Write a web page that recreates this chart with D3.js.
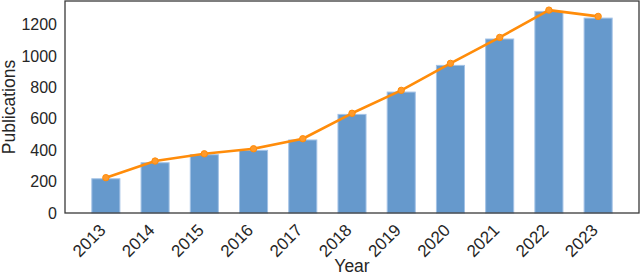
<!DOCTYPE html>
<html><head><meta charset="utf-8">
<script src="https://cdn.jsdelivr.net/npm/d3@7"></script>
<style>
html,body{margin:0;padding:0;background:#fff;}
svg{display:block;}
text{font-family:"Liberation Sans",Arial,Helvetica,sans-serif;fill:#262626;}
</style></head>
<body>
<svg id="chart" width="640" height="276"></svg>
<script>
const years = ["2013","2014","2015","2016","2017","2018","2019","2020","2021","2022","2023"];
const barValues = [218, 320, 371, 399, 465, 628, 770, 940, 1108, 1284, 1241];
const lineValues = [225, 331, 377, 409, 473, 635, 781, 953, 1118, 1292, 1252];
const yTicks = [0, 200, 400, 600, 800, 1000, 1200];

const W = 640, H = 276;
const m = {left: 65, right: 1, top: 1, bottom: 63};
const svg = d3.select("#chart");
const pw = W - m.left - m.right, ph = H - m.top - m.bottom;

const x = d3.scaleLinear().domain([-0.83, years.length - 1 + 0.83]).range([m.left, m.left + pw]);
const y = d3.scaleLinear().domain([0, 1350]).range([m.top + ph, m.top]);
const bw = (x(0.57) - x(0));

// bars
svg.append("g").selectAll("rect").data(barValues).join("rect")
  .attr("x", (d, i) => x(i) - bw / 2)
  .attr("y", d => y(d))
  .attr("width", bw)
  .attr("height", d => y(0) - y(d))
  .attr("fill", "#6699cc")
  .attr("stroke", "#a3c2e6")
  .attr("stroke-width", 1);

// line
const line = d3.line().x((d, i) => x(i)).y(d => y(d));
svg.append("path").datum(lineValues)
  .attr("d", line).attr("fill", "none")
  .attr("stroke", "#ff8c0a").attr("stroke-width", 2.6)
  .attr("stroke-linejoin", "round");
svg.append("g").selectAll("circle").data(lineValues).join("circle")
  .attr("cx", (d, i) => x(i)).attr("cy", d => y(d)).attr("r", 3.2)
  .attr("fill", "#ff9a2a").attr("stroke", "#ff8c0a").attr("stroke-width", 1);

// frame
svg.append("rect").attr("x", m.left).attr("y", m.top).attr("width", pw).attr("height", ph)
  .attr("fill", "none").attr("stroke", "#3a3a3a").attr("stroke-width", 1.3);

// y axis
const yAxis = d3.axisLeft(y).tickValues(yTicks).tickFormat(d3.format("d")).tickSize(0).tickPadding(8);
const gy = svg.append("g").attr("transform", `translate(${m.left},0)`).call(yAxis);
gy.select(".domain").remove();
gy.selectAll("text").style("font-size", "16px").attr("fill", "#262626")
  .style("font-family", '"Liberation Sans",Arial,sans-serif');

// x axis
const xAxis = d3.axisBottom(x).tickValues(d3.range(years.length)).tickFormat(i => years[i]).tickSize(0);
const gx = svg.append("g").attr("transform", `translate(0,${m.top + ph})`).call(xAxis);
gx.select(".domain").remove();
gx.selectAll("text").style("font-size", "17px").attr("fill", "#262626")
  .style("font-family", '"Liberation Sans",Arial,sans-serif')
  .attr("text-anchor", "end")
  .attr("y", 0).attr("dy", "0.35em")
  .attr("transform", "translate(-4,14) rotate(-45)");

// axis labels
svg.append("text").attr("x", m.left + pw / 2).attr("y", 272)
  .attr("text-anchor", "middle").style("font-size", "17.5px").text("Year");
svg.append("text").attr("transform", `translate(15,${m.top + ph / 2}) rotate(-90)`)
  .attr("text-anchor", "middle").style("font-size", "17.5px").text("Publications");
</script>
</body></html>
